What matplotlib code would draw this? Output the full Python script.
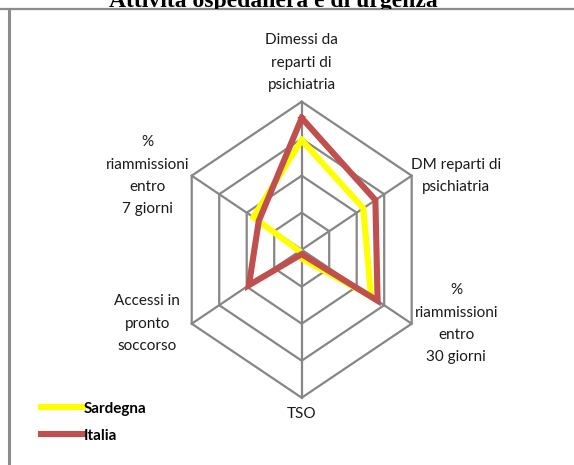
import numpy as np
import matplotlib
matplotlib.use("Agg")
import matplotlib.pyplot as plt
from matplotlib.lines import Line2D
from matplotlib.transforms import Bbox, TransformedBbox

# values (outer ring = 100)
categories = ["Dimessi da\nreparti di\npsichiatria",
              "DM reparti di\npsichiatria",
              "%\nriammissioni\nentro\n30 giorni",
              "TSO",
              "Accessi in\npronto\nsoccorso",
              "%\nriammissioni\nentro\n7 giorni"]
sardegna = [74, 56, 63, 6, 2, 44]
italia = [89, 67, 69, 3, 48, 39]
ring_levels = [25, 50, 75, 100]
series_names = ["Sardegna", "Italia"]
title = "Attività ospedaliera e di urgenza"

grid_col = "#868686"
colors = {"Sardegna": "#FFFF00", "Italia": "#C0504D"}

plt.rcParams['font.family'] = ['Lato', 'DejaVu Sans']

W, H = 574, 465
fig = plt.figure(figsize=(W / 100, H / 100), dpi=100)

# radar drawn in a plain axes; the box is taller than wide, like the picture
cx, cy = 301.7, 465 - 249.7
sx, sy = 127.0, 148.0
lim = 1.2
ax = fig.add_axes([(cx - lim * sx) / W, (cy - lim * sy) / H,
                   2 * lim * sx / W, 2 * lim * sy / H])
ax.set_xlim(-lim, lim)
ax.set_ylim(-lim, lim)
ax.axis("off")

n = len(categories)
theta = np.arange(n) * 2 * np.pi / n
ux, uy = np.sin(theta), np.cos(theta)
top = max(ring_levels)


def closed(a):
    return np.append(a, a[0])


# hexagon rings and spokes
for lev in ring_levels:
    r = lev / top
    ax.plot(closed(ux * r), closed(uy * r), color=grid_col, lw=1.6, zorder=1)
for i in range(n):
    ax.plot([0, ux[i]], [0, uy[i]], color=grid_col, lw=1.6, zorder=1)

# series
for name, vals in zip(series_names, [sardegna, italia]):
    r = np.array(vals) / top
    ax.plot(closed(ux * r), closed(uy * r), color=colors[name], lw=4.4,
            solid_joinstyle="miter", label=name, zorder=3)

# axis labels
for i, lab in enumerate(categories):
    if abs(ux[i]) < 1e-6:
        if uy[i] > 0:
            off, va = (0, 7), "bottom"
        else:
            off, va = (0, -7), "top"
    else:
        off, va = (np.sign(ux[i]) * 32, 0), "center"
    ax.annotate(lab, (ux[i], uy[i]), xytext=off, textcoords="offset points",
                ha="center", va=va, fontsize=11, linespacing=1.75,
                color="#1a1a1a", annotation_clip=False)

leg = fig.legend(loc="upper left", bbox_to_anchor=(0.047, 1 - 388 / H),
                 frameon=False, handlelength=2.75, handletextpad=0.05,
                 labelspacing=0.85, prop={"weight": "bold", "size": 11})

# outer frame of the original figure
y_line = 1 - 9.5 / H
fig.add_artist(Line2D([0, 1], [y_line, y_line], transform=fig.transFigure,
                      color="#8c8c8c", lw=1.6))
fig.add_artist(Line2D([9 / W, 9 / W], [0, y_line], transform=fig.transFigure,
                      color="#8c8c8c", lw=2.2))

t = fig.text(273 / W, 1 - 6.5 / H, title, ha="center", va="baseline",
             fontsize=17, fontweight="bold", family="Liberation Serif")
t.set_clip_box(TransformedBbox(Bbox([[0, y_line], [1, 1.2]]), fig.transFigure))
t.set_clip_on(True)

fig.savefig("out.png", dpi=100)
